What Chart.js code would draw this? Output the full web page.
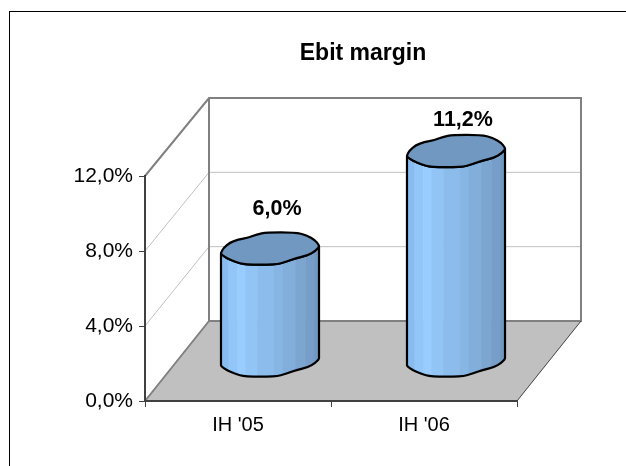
<!DOCTYPE html>
<html>
<head>
<meta charset="utf-8">
<script src="https://cdn.jsdelivr.net/npm/chart.js@4"></script>
<style>
html,body{margin:0;padding:0;background:#fff;width:626px;height:466px;overflow:hidden}
#frame{position:absolute;left:9px;top:11px;width:640px;height:480px;border:1.5px solid #000;box-sizing:border-box;pointer-events:none}
canvas{position:absolute;left:0;top:0}
</style>
</head>
<body>
<canvas id="c" width="726" height="466"></canvas>
<div id="frame"></div>
<script>
const categories = ["IH '05", "IH '06"];
const margins = [6.0, 11.2];
const valueTicks = [0, 4, 8, 12];
const titleText = "Ebit margin";
const labelLift = [39.5, 30.5];

const FONT = '"Liberation Sans", Arial, sans-serif';
const DEPTH_X = 64, DEPTH_Y = 80;
// Unit outline of a cylinder cap (fraction of half-width), as Excel's faceted 3D cylinder renders it.
const CAP = [[-1,.10],[-.99,.07],[-.95,-.01],[-.82,-.12],[-.65,-.18],[-.44,-.22],[-.27,-.29],[-.07,-.33],[.51,-.33],[.75,-.27],[.92,-.17],[.99,-.08],[1,-.05],
             [.99,-.02],[.92,.05],[.78,.14],[.54,.19],[.34,.27],[.1,.33],[-.51,.33],[-.71,.27],[-.88,.2],[-.99,.12]];
const STRIPS = [[0,'#88bcf0'],[.075,'#92c5f8'],[.165,'#99ccff'],[.25,'#92c4f6'],[.37,'#8cbcec'],[.54,'#88b6e4'],[.63,'#82aedb'],[.76,'#7ca6d0'],[.86,'#769ec8'],[.95,'#7098c0'],[1.01,'#7098c0']];

const mid = (a, b) => [(a[0] + b[0]) / 2, (a[1] + b[1]) / 2];
function traceOpen(path, pts) {
  path.lineTo(pts[0][0], pts[0][1]);
  for (let i = 1; i < pts.length - 1; i++) {
    const m = mid(pts[i], pts[i + 1]);
    path.quadraticCurveTo(pts[i][0], pts[i][1], m[0], m[1]);
  }
  const e = pts[pts.length - 1];
  path.lineTo(e[0], e[1]);
}
function traceClosed(path, pts) {
  const n = pts.length;
  const s = mid(pts[n - 1], pts[0]);
  path.moveTo(s[0], s[1]);
  for (let i = 0; i < n; i++) {
    const m = mid(pts[i], pts[(i + 1) % n]);
    path.quadraticCurveTo(pts[i][0], pts[i][1], m[0], m[1]);
  }
  path.closePath();
}

const scene = {
  id: 'scene',
  afterLayout(chart) {
    // the chart's own box is wider than its plot: centre the title on the full canvas
    chart.titleBlock.left = 0;
    chart.titleBlock.right = chart.width;
  },
  beforeDraw(chart) {
    const {ctx, scales:{x, y}} = chart;
    const L = x.left, R = x.right;
    const fy = v => y.getPixelForValue(v);
    const by = v => fy(v) - DEPTH_Y + 2 * v / 12;
    const bx = L + DEPTH_X, bxr = R + DEPTH_X;
    ctx.save();
    ctx.fillStyle = '#c0c0c0';
    ctx.beginPath();
    ctx.moveTo(L, fy(0)); ctx.lineTo(bx, by(0)); ctx.lineTo(bxr, by(0)); ctx.lineTo(R, fy(0));
    ctx.closePath(); ctx.fill();
    ctx.lineWidth = 1; ctx.strokeStyle = '#c0c0c0';
    valueTicks.filter(v => v > 0 && v < 12).forEach(v => {
      ctx.beginPath(); ctx.moveTo(L, fy(v)); ctx.lineTo(bx, by(v)); ctx.lineTo(bxr, by(v)); ctx.stroke();
    });
    ctx.strokeStyle = '#808080'; ctx.lineWidth = 2;
    ctx.beginPath();
    ctx.moveTo(L, fy(12)); ctx.lineTo(bx, by(12)); ctx.lineTo(bxr, by(12)); ctx.lineTo(bxr, by(0)); ctx.lineTo(bx, by(0)); ctx.lineTo(bx, by(12));
    ctx.moveTo(L, fy(0)); ctx.lineTo(bx, by(0));
    ctx.stroke();
    ctx.strokeStyle = '#404040'; ctx.lineWidth = 1;
    ctx.beginPath(); ctx.moveTo(R, fy(0)); ctx.lineTo(bxr, by(0)); ctx.stroke();
    ctx.restore();
  },
  afterDatasetsDraw(chart) {
    const {ctx} = chart;
    const meta = chart.getDatasetMeta(0);
    meta.data.forEach((bar, i) => {
      const hw = bar.width / 2;
      const cx = bar.x + DEPTH_X / 2;
      const top = bar.y - DEPTH_Y / 2, base = bar.base - DEPTH_Y / 2;
      const pt = (p, yy) => [cx + p[0] * hw, yy + p[1] * hw];
      const right = CAP.findIndex(p => p[0] === 1);
      const lower = CAP.slice(right).concat([CAP[0]]);
      const path = new Path2D();
      const p0 = pt(CAP[0], top);
      path.moveTo(p0[0], p0[1]);
      traceOpen(path, lower.slice().reverse().map(p => pt(p, base)));
      traceOpen(path, lower.map(p => pt(p, top)));
      path.closePath();
      ctx.save();
      ctx.clip(path);
      const yTop = top - hw, h = base - top + 2 * hw;
      STRIPS.slice(0, -1).forEach((s, k) => {
        ctx.fillStyle = s[1];
        ctx.fillRect(cx - hw + s[0] * 2 * hw, yTop, (STRIPS[k + 1][0] - s[0]) * 2 * hw + .5, h);
      });
      ctx.restore();
      ctx.save();
      ctx.lineJoin = 'round';
      ctx.strokeStyle = '#000'; ctx.lineWidth = 2.2;
      ctx.stroke(path);
      const cap = new Path2D();
      traceClosed(cap, CAP.map(p => pt(p, top)));
      ctx.fillStyle = '#7098c0';
      ctx.fill(cap); ctx.stroke(cap);
      ctx.fillStyle = '#000';
      ctx.font = 'bold 21.5px ' + FONT;
      ctx.textAlign = 'center'; ctx.textBaseline = 'middle';
      ctx.fillText(margins[i].toFixed(1).replace('.', ',') + '%', cx + 7, top - labelLift[i]);
      ctx.restore();
    });
  }
};

new Chart(document.getElementById('c'), {
  type: 'bar',
  data: {
    labels: categories,
    datasets: [{ data: margins, backgroundColor: 'rgba(0,0,0,0)', borderWidth: 0, barPercentage: 0.527, categoryPercentage: 1 }]
  },
  plugins: [scene],
  options: {
    responsive: false,
    devicePixelRatio: 1,
    animation: false,
    layout: { padding: { left: 45, right: 209, top: 0, bottom: 35 } },
    plugins: {
      legend: { display: false },
      tooltip: { enabled: false },
      title: {
        display: true, text: titleText, color: '#000',
        font: { family: FONT, size: 23, weight: 'bold', lineHeight: 1.2 },
        padding: { top: 40, bottom: 108.4 }
      }
    },
    scales: {
      x: {
        grid: { drawOnChartArea: false, color: '#404040', tickLength: 6, offset: true },
        border: { color: '#404040', width: 2 },
        ticks: { color: '#000', font: { family: FONT, size: 20 }, padding: 6, maxRotation: 0 },
        afterFit(s) { s.height = 30; }
      },
      y: {
        min: 0, max: 12,
        afterBuildTicks(s) { s.ticks = valueTicks.map(v => ({ value: v })); },
        grid: { drawOnChartArea: false, color: '#404040', tickLength: 6 },
        border: { color: '#404040', width: 2 },
        ticks: {
          color: '#000', font: { family: FONT, size: 21 }, padding: 6,
          callback: v => v.toFixed(1).replace('.', ',') + '%'
        },
        afterFit(s) { s.width = 100; }
      }
    }
  }
});
</script>
</body>
</html>
